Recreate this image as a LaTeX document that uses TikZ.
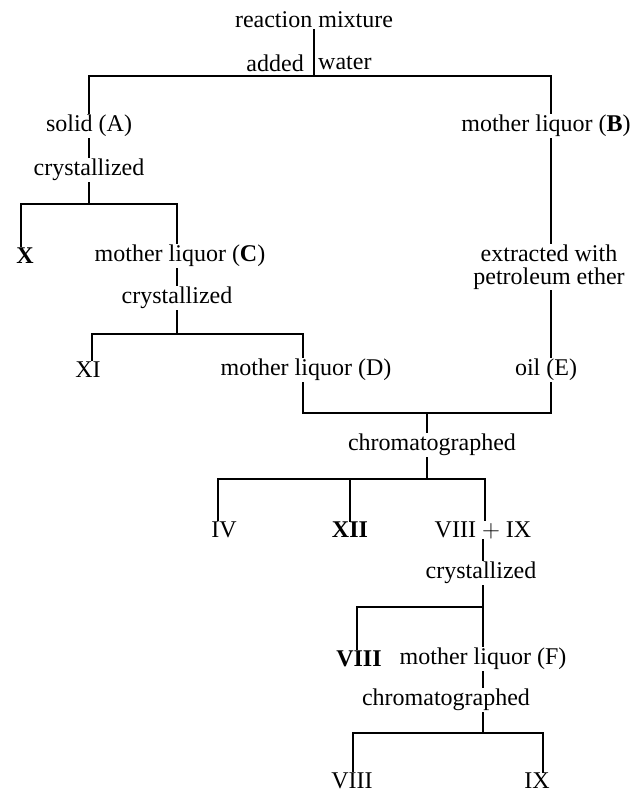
\documentclass[tikz,border=0pt]{standalone}
\usepackage{fontspec}
\setmainfont{Liberation Serif}
\usepackage{tikz}
\usetikzlibrary{calc}
\newcommand{\cpd}[1]{\textbf{#1}}
\tikzset{
    stage/.style={inner sep=1pt, font=\fontsize{24}{23}\selectfont},
    cpdnode/.style={stage},
    flow/.style={line width=1.1pt, line cap=rect}
}

\begin{document}
\begin{tikzpicture}[x=1pt, y=-1pt]
    \useasboundingbox (0,0) rectangle (633,793);
    % top split
    \path
        node[stage] (mix) at (314,20) {reaction mixture}
        node[stage, anchor=east] (added) at (305,63) {added}
        node[stage, anchor=west] (water) at (317,63) {water}
        node[stage] (solidA) at (89,126) {solid (A)}
        node[stage] (liqB) at (546,126) {mother liquor (\cpd{B})}
        node[stage] (cryst1) at (89,170) {crystallized}
        node[cpdnode] (X) at (25,256) {\cpd{X}}
        node[stage] (liqC) at (180,256) {mother liquor (\cpd{C})}
        node[stage] (cryst2) at (177,298) {crystallized}
        node[cpdnode] (XI) at (88,370) {XI}
        node[stage] (liqD) at (306,370) {mother liquor (D)}
        node[stage, align=center] (extr) at (549,267) {extracted with\\petroleum ether}
        node[stage] (oilE) at (546,370) {oil (E)}
        node[stage] (chrom1) at (432,445) {chromatographed}
        node[cpdnode] (IV) at (224,530) {IV}
        node[cpdnode] (XII) at (350,530) {\cpd{XII}}
        node[cpdnode] (mixVIII) at (483,530) {VIII $+$ IX}
        node[stage] (cryst3) at (481,573) {crystallized}
        node[cpdnode] (VIIIa) at (359,659) {\cpd{VIII}}
        node[stage] (liqF) at (483,659) {mother liquor (F)}
        node[stage] (chrom2) at (446,700) {chromatographed}
        node[cpdnode] (VIIIb) at (352,781) {VIII}
        node[cpdnode] (IX) at (537,781) {IX};

    % bars
    \coordinate (j1) at (314,76);
    \coordinate (b1l) at (89,76);   \coordinate (b1r) at (551,76);
    \coordinate (j2) at (89,204);
    \coordinate (b2l) at (21,204);  \coordinate (b2r) at (177,204);
    \coordinate (j3) at (177,334);
    \coordinate (b3l) at (92,334);  \coordinate (b3r) at (303,334);
    \coordinate (j4) at (427,413);
    \coordinate (b4l) at (303,413); \coordinate (b4r) at (551,413);
    \coordinate (j5) at (427,479);
    \coordinate (b5l) at (218,479); \coordinate (b5m) at (350,479); \coordinate (b5r) at (485,479);
    \coordinate (j6) at (483,607);
    \coordinate (b6l) at (357,607);
    \coordinate (j7) at (483,733);
    \coordinate (b7l) at (353,733); \coordinate (b7r) at (543,733);

    \draw[flow] (mix) -- (j1) (b1l) -- (b1r);
    \draw[flow] (b1l) -- (solidA.north -| b1l) (solidA.south -| b1l) -- (cryst1.north -| b1l)
        (cryst1.south -| b1l) -- (j2) (b2l) -- (b2r);
    \draw[flow] (b2l) -- (X.north -| b2l) (b2r) -- (liqC.north -| b2r)
        (liqC.south -| b2r) -- (cryst2.north -| b2r) (cryst2.south -| b2r) -- (j3) (b3l) -- (b3r);
    \draw[flow] (b3l) -- (XI.north -| b3l) (b3r) -- (liqD.north -| b3r) (liqD.south -| b3r) -- (b4l);
    \draw[flow] (b1r) -- (liqB.north -| b1r) (liqB.south -| b1r) -- (extr.north -| b1r)
        (extr.south -| b1r) -- (oilE.north -| b1r) (oilE.south -| b1r) -- (b4r) (b4l) -- (b4r);
    \draw[flow] (j4) -- (chrom1.north -| j4) (chrom1.south -| j4) -- (j5) (b5l) -- (b5r);
    \draw[flow] (b5l) -- (IV.north -| b5l) (b5m) -- (XII) (b5r) -- (mixVIII.north -| b5r);
    \draw[flow] (mixVIII.south -| j6) -- (cryst3.north -| j6) (cryst3.south -| j6) -- (j6) (b6l) -- (j6);
    \draw[flow] (b6l) -- (VIIIa.north -| b6l) (j6) -- (liqF.north -| j6)
        (liqF.south -| j6) -- (chrom2.north -| j6) (chrom2.south -| j6) -- (j7) (b7l) -- (b7r);
    \draw[flow] (b7l) -- (VIIIb.north -| b7l) (b7r) -- (IX.north -| b7r);
\end{tikzpicture}
\end{document}
